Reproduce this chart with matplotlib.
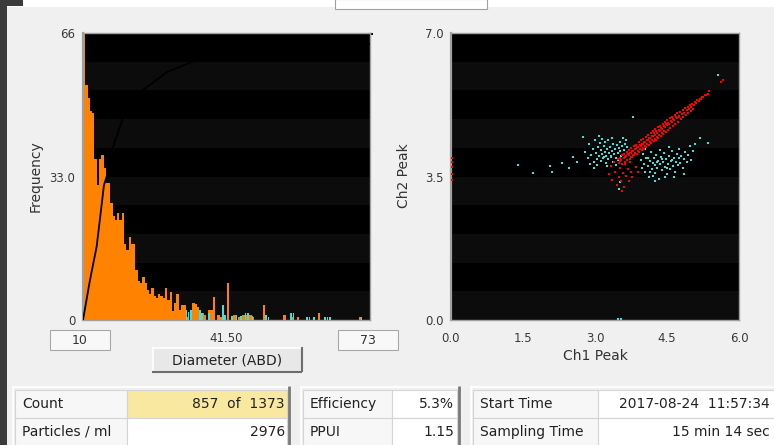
import numpy as np
import matplotlib.pyplot as plt
from matplotlib.patches import Rectangle

# --- histogram (bin left edge in um, frequency), bins 0.5 um wide ---
bin_w = 0.5
orange_d = [10.0, 10.5, 11.0, 11.5, 12.0, 12.5, 13.0, 13.5, 14.0, 14.5,
            15.0, 15.5, 16.0, 16.5, 17.0, 17.5, 18.0, 18.5, 19.0, 19.5,
            20.0, 20.5, 21.0, 21.5, 22.0, 22.5, 23.0, 23.5, 24.0, 24.5,
            25.0, 25.5, 26.0, 26.5, 27.0, 27.5, 28.0, 28.5, 29.0, 29.5,
            30.0, 30.5, 31.0, 31.5, 32.0, 32.5, 34.0, 34.5, 35.0, 36.0,
            36.5, 37.5, 38.0, 38.5, 39.5, 40.0, 41.5, 42.5, 43.0, 44.0,
            45.0, 45.5, 46.5, 47.0, 49.5, 54.0, 55.5, 57.0, 61.5, 70.5]
orange_f = [66, 54, 51, 48, 47.5, 37, 31, 37, 38, 35,
            31.5, 31.5, 27, 24, 23, 24.5, 23, 24.5, 17.5, 16,
            19, 17.5, 17.5, 11.5, 9, 8.5, 10, 8.5, 7, 6,
            7.4, 5.5, 5, 6, 5.5, 5, 7.4, 4.6, 6.4, 2,
            4, 6, 2.3, 3.4, 3.4, 0.6, 3.8, 3.7, 3, 1.6,
            1.2, 2.3, 2.3, 5.3, 1.2, 0.8, 8.5, 0.8, 1.2, 0.8,
            1.2, 1.2, 1.2, 0.8, 3.4, 1.1, 0.6, 0.6, 1.5, 0.8]
cyan_d = [32.5, 33.0, 33.5, 35.5, 36.0, 37.5, 40.5, 41.0, 42.5, 43.5,
          44.5, 45.5, 46.0, 47.0, 50.0, 50.5, 55.5, 56.0, 59.0, 59.5,
          60.5, 63.0, 63.5, 64.0, 71.0]
cyan_f = [2.3, 1.8, 2.3, 2.3, 1.5, 1.5, 3.4, 1.2, 1.0, 1.2,
          1.0, 1.5, 1.5, 1.0, 1.2, 0.8, 1.5, 1.5, 0.8, 0.8,
          0.6, 0.8, 0.8, 0.7, 0.8]

# cumulative curve
curve_d = [10.0, 11.5, 13.0, 14.6, 15.5, 16.6, 18.8, 23.2, 28.4, 35.0, 44.5, 57.6, 73.0]
curve_f = [0, 9.0, 16.9, 31.0, 34.0, 39.8, 46.5, 52.9, 57.0, 59.8, 61.6, 62.8, 63.5]

# --- scatter Ch1 Peak vs Ch2 Peak ---
red_pts = [
    (3.30, 3.55), (3.36, 3.42), (3.42, 3.62), (3.45, 3.30), (3.50, 3.48), (3.52, 3.70),
    (3.55, 3.38), (3.58, 3.58), (3.60, 3.25), (3.62, 3.80), (3.65, 3.52), (3.68, 3.68),
    (3.70, 3.40), (3.72, 3.85), (3.75, 3.62), (3.78, 3.50), (3.40, 3.85), (3.47, 3.92),
    (3.33, 3.75), (3.56, 3.15), (3.85, 3.72), (3.90, 3.60),
    (3.50, 3.82), (3.52, 3.95), (3.53, 3.88), (3.55, 3.90), (3.56, 4.02), (3.57, 3.80),
    (3.60, 3.95), (3.61, 4.05), (3.62, 3.86), (3.63, 3.98), (3.65, 4.00), (3.66, 4.10),
    (3.67, 3.90), (3.68, 4.05), (3.70, 4.03), (3.71, 4.15), (3.72, 3.93), (3.73, 4.08),
    (3.74, 3.98), (3.75, 4.08), (3.76, 4.20), (3.77, 3.97), (3.78, 4.12), (3.79, 4.02),
    (3.80, 4.12), (3.81, 4.25), (3.82, 4.02), (3.83, 4.18), (3.84, 4.08), (3.85, 4.16),
    (3.86, 4.28), (3.87, 4.06), (3.88, 4.22), (3.89, 4.12), (3.90, 4.21), (3.91, 4.33),
    (3.92, 4.10), (3.93, 4.26), (3.94, 4.16), (3.95, 4.25), (3.96, 4.38), (3.97, 4.15),
    (3.98, 4.30), (3.99, 4.20), (4.00, 4.30), (4.01, 4.42), (4.02, 4.18), (4.03, 4.35),
    (4.04, 4.24), (4.05, 4.34), (4.06, 4.47), (4.07, 4.22), (4.08, 4.40), (4.09, 4.29),
    (4.10, 4.39), (4.11, 4.52), (4.12, 4.27), (4.13, 4.45), (4.14, 4.33), (4.15, 4.43),
    (4.16, 4.56), (4.17, 4.32), (4.18, 4.50), (4.19, 4.38), (4.20, 4.48), (4.21, 4.61),
    (4.22, 4.36), (4.23, 4.55), (4.24, 4.42), (4.25, 4.52), (4.26, 4.65), (4.27, 4.40),
    (4.28, 4.60), (4.29, 4.47), (4.30, 4.57), (4.31, 4.70), (4.32, 4.45), (4.33, 4.64),
    (4.34, 4.52), (4.35, 4.61), (4.36, 4.74), (4.37, 4.50), (4.38, 4.68), (4.39, 4.57),
    (4.40, 4.66), (4.41, 4.79), (4.42, 4.54), (4.43, 4.73), (4.44, 4.61), (4.45, 4.70),
    (4.46, 4.83), (4.47, 4.59), (4.48, 4.77), (4.50, 4.75), (4.51, 4.87), (4.52, 4.64),
    (4.53, 4.81), (4.55, 4.79), (4.56, 4.92), (4.57, 4.68), (4.58, 4.86), (4.60, 4.84),
    (4.61, 4.96), (4.62, 4.73), (4.63, 4.90), (4.65, 4.88), (4.66, 5.00), (4.67, 4.78),
    (4.68, 4.94), (4.70, 4.93), (4.71, 5.04), (4.72, 4.83), (4.74, 4.98), (4.76, 4.96),
    (4.78, 5.08), (4.79, 4.90), (4.81, 5.02), (4.83, 5.12), (4.84, 4.95), (4.86, 5.06),
    (4.88, 5.16), (4.89, 5.00), (4.91, 5.11), (4.93, 5.20), (4.94, 5.05), (4.96, 5.15),
    (4.98, 5.24), (4.99, 5.10), (5.01, 5.20), (5.03, 5.28), (5.04, 5.14), (5.06, 5.25),
    (5.08, 5.32), (5.11, 5.29), (5.13, 5.36), (5.16, 5.33), (5.18, 5.40), (5.21, 5.38),
    (5.23, 5.44), (5.26, 5.43), (5.29, 5.48), (5.32, 5.50), (5.35, 5.52), (5.38, 5.58),
    (5.62, 5.80), (5.66, 5.86),
    (0.02, 3.42), (0.02, 3.55), (0.02, 3.72), (0.02, 3.85), (0.02, 3.95),
]
cyan_pts = [
    (2.80, 4.10), (2.85, 3.95), (2.88, 4.30), (2.92, 4.02), (2.95, 4.18), (2.97, 3.85),
    (3.00, 4.40), (3.02, 4.08), (3.04, 3.92), (3.06, 4.22), (3.08, 4.00), (3.10, 4.32),
    (3.12, 3.88), (3.13, 4.15), (3.15, 4.05), (3.17, 3.95), (3.18, 4.25), (3.20, 4.10),
    (3.22, 3.82), (3.23, 4.00), (3.25, 4.18), (3.27, 4.38), (3.28, 3.92), (3.30, 4.08),
    (3.32, 4.22), (3.33, 3.98), (3.35, 4.12), (3.37, 3.86), (3.38, 4.30), (3.40, 4.04),
    (3.42, 4.16), (3.43, 3.94), (3.45, 4.26), (3.47, 4.08), (3.48, 3.90), (3.50, 4.20),
    (3.52, 4.12), (3.53, 4.35), (3.55, 4.00), (3.57, 4.24), (3.58, 4.45), (3.60, 4.15),
    (3.62, 4.30), (3.64, 4.38), (3.66, 4.22), (3.14, 4.42), (3.05, 3.78), (2.98, 3.70),
    (3.26, 3.75), (3.44, 3.78), (3.36, 4.45), (3.21, 4.34), (3.09, 4.48), (2.90, 3.80),
    (3.34, 4.00), (3.19, 3.98),
    (3.95, 3.90), (3.98, 3.70), (4.00, 4.05), (4.03, 3.80), (4.05, 3.60), (4.07, 3.95),
    (4.10, 3.75), (4.12, 3.50), (4.14, 3.88), (4.16, 4.10), (4.18, 3.68), (4.20, 3.82),
    (4.22, 3.95), (4.24, 3.58), (4.26, 3.78), (4.28, 4.02), (4.30, 3.70), (4.32, 3.88),
    (4.34, 3.45), (4.36, 3.80), (4.38, 3.98), (4.40, 3.65), (4.42, 3.85), (4.44, 4.08),
    (4.46, 3.72), (4.48, 3.92), (4.50, 3.55), (4.52, 3.80), (4.54, 4.00), (4.56, 3.68),
    (4.58, 3.88), (4.60, 4.12), (4.62, 3.75), (4.64, 3.95), (4.66, 3.60), (4.68, 3.85),
    (4.70, 4.05), (4.72, 3.78), (4.74, 3.95), (4.76, 4.18), (4.78, 3.82), (4.80, 4.00),
    (4.83, 3.70), (4.86, 3.92), (4.88, 4.10), (4.91, 3.85), (4.94, 4.02), (4.97, 4.25),
    (5.00, 3.90), (5.04, 4.12), (5.08, 4.30), (4.25, 3.40), (4.45, 3.48), (4.15, 3.62),
    (4.35, 4.15), (4.55, 4.22), (4.05, 4.18), (4.65, 3.50), (4.85, 3.55), (4.20, 3.52),
    (4.40, 3.92), (4.50, 3.70), (4.30, 3.85), (4.60, 3.90), (4.10, 3.95),
    (1.40, 3.78), (1.71, 3.59), (2.06, 3.76), (2.10, 3.62), (2.31, 3.83), (2.45, 3.70),
    (2.54, 3.97), (2.62, 3.85), (2.75, 4.46), (3.79, 4.95), (5.19, 4.44), (5.35, 4.32),
    (5.56, 5.98), (3.52, 3.37), (3.50, 3.20), (3.47, 0.03), (3.55, 0.03),
]

# --- stats tables ---
stat_labels_1 = ["Count", "Particles / ml"]
stat_values_1 = ["857  of  1373", "2976"]
stat_labels_2 = ["Efficiency", "PPUI"]
stat_values_2 = ["5.3%", "1.15"]
stat_labels_3 = ["Start Time", "Sampling Time"]
stat_values_3 = ["2017-08-24  11:57:34", "15 min 14 sec"]

W, H = 774, 445
BG = '#f0f0f0'
TXT = '#333333'
ORANGE = '#ff8200'
CYAN = '#3fe0dc'

fig = plt.figure(figsize=(W / 100, H / 100), dpi=100)
fig.patch.set_facecolor(BG)

# overlay axes in pixel units for the window furniture
ui = fig.add_axes([0, 0, 1, 1])
ui.set_xlim(0, W)
ui.set_ylim(H, 0)
ui.axis('off')
ui.set_zorder(0)


def rect(x0, y0, x1, y1, fc, ec='none', lw=0):
    ui.add_patch(Rectangle((x0, y0), x1 - x0, y1 - y0, facecolor=fc,
                           edgecolor=ec, linewidth=lw))


def line(x0, y0, x1, y1, c, lw=1.0):
    ui.plot([x0, x1], [y0, y1], color=c, lw=lw, solid_capstyle='butt')


def add_ax(x0, y0, x1, y1):
    a = fig.add_axes([x0 / W, 1 - y1 / H, (x1 - x0) / W, (y1 - y0) / H])
    a.set_zorder(2)
    return a


def bands(a, lo, hi):
    step = (hi - lo) / 10
    for i in range(10):
        a.axhspan(hi - (i + 1) * step, hi - i * step,
                  color='#000000' if i % 2 == 0 else '#0c0c0c', lw=0, zorder=0)


def style(a):
    for s in a.spines.values():
        s.set_color('#a0a0a0')
        s.set_linewidth(1.0)
    a.spines['left'].set_linewidth(1.6)
    a.tick_params(length=0, labelsize=8.5, labelcolor='#3a3a3a')
    a.tick_params(axis='x', pad=9)
    a.tick_params(axis='y', pad=5.5)


# top strip and left border of the window
rect(0, 0, W, 7, 'white')
rect(335, -1, 487, 9, 'white', ec='#a0a0a0', lw=0.8)
rect(0, 0, 7, H, '#3b3b3b')
rect(0, 0, 23, 6, '#3b3b3b')

# ---- histogram ----
hax = add_ax(83, 33, 370, 320)
hax.set_xlim(10, 73)
hax.set_ylim(0, 66)
bands(hax, 0, 66)
hax.bar(orange_d, orange_f, width=bin_w, align='edge', color=ORANGE,
        linewidth=0, zorder=2)
hax.bar(cyan_d, cyan_f, width=bin_w * 0.7, align='edge', color=CYAN,
        linewidth=0, zorder=3)
hax.plot(curve_d, curve_f, color='black', lw=1.3, zorder=4)
hax.set_yticks([0, 33, 66])
hax.set_yticklabels(['0', '33.0', '66'])
hax.set_xticks([41.5])
hax.set_xticklabels(['41.50'])
style(hax)
# the black frame tail at the top right of the histogram
line(368, 33.5, 373, 33.5, 'black', 1.5)

ui.text(36, 176, 'Frequency', rotation=90, ha='center', va='center',
        fontsize=10, color=TXT)
rect(50, 330, 110, 350, '#f8f8f8', ec='#a8a8a8', lw=0.8)
ui.text(80, 340.5, '10', ha='center', va='center', fontsize=9, color=TXT)
rect(338, 330, 398, 350, '#f8f8f8', ec='#a8a8a8', lw=0.8)
ui.text(368, 340.5, '73', ha='center', va='center', fontsize=9, color=TXT)
rect(152, 347, 302, 372, '#e8e8e8')
line(152, 347.5, 302, 347.5, 'white', 1.2)
line(152.5, 347, 152.5, 372, 'white', 1.2)
line(152, 371.5, 302, 371.5, '#6e6e6e', 1.5)
line(301.5, 347, 301.5, 372, '#6e6e6e', 1.5)
ui.text(227, 360, 'Diameter (ABD)', ha='center', va='center', fontsize=10, color='#222222')

# ---- scatter ----
sax = add_ax(451, 33, 739, 320)
sax.set_xlim(0, 6)
sax.set_ylim(0, 7)
bands(sax, 0, 7)
cp = np.array(cyan_pts)
rp = np.array(red_pts)
sax.scatter(cp[:, 0], cp[:, 1], s=2.5, marker='s', color=CYAN, linewidths=0, zorder=2)
sax.scatter(rp[:, 0], rp[:, 1], s=4.2, marker='s', color='#ff0000', linewidths=0, zorder=3)
sax.set_xticks([0, 1.5, 3.0, 4.5, 6.0])
sax.set_xticklabels(['0.0', '1.5', '3.0', '4.5', '6.0'])
sax.set_yticks([0, 3.5, 7.0])
sax.set_yticklabels(['0.0', '3.5', '7.0'])
style(sax)
ui.text(595, 356, 'Ch1 Peak', ha='center', va='center', fontsize=10, color=TXT)
ui.text(404, 176, 'Ch2 Peak', rotation=90, ha='center', va='center',
        fontsize=10, color=TXT)


# ---- stats tables ----
def table(x0, xs, x1, labels, values, first_fill, vx):
    rect(x0 - 3, 386, x1 + 3, H + 2, BG)
    line(x0 - 3, 386.5, x1 + 3, 386.5, 'white', 1.2)
    line(x0 - 2.5, 386, x0 - 2.5, H, 'white', 1.2)
    line(x1 + 2, 386, x1 + 2, H, '#7a7a7a', 2)
    rows = [(390, 417.5), (417.5, H + 1)]
    for i, (ya, yb) in enumerate(rows):
        rect(x0, ya, xs, yb, '#f7f7f7', ec='#d4d4d4', lw=0.8)
        rect(xs, ya, x1, yb, first_fill if i == 0 else 'white', ec='#d4d4d4', lw=0.8)
        ym = (ya + min(yb, H)) / 2 + 0.5
        ui.text(x0 + 7, ym, labels[i], ha='left', va='center', fontsize=10, color='#222222')
        ui.text(vx, ym, values[i], ha='right', va='center', fontsize=10, color='#222222')


table(15, 127, 287, stat_labels_1, stat_values_1, '#f8e8a0', 285)
table(303, 392, 457, stat_labels_2, stat_values_2, 'white', 454)
table(473, 598, 777, stat_labels_3, stat_values_3, 'white', 770)

fig.savefig('out.png', dpi=100, facecolor=fig.get_facecolor())
